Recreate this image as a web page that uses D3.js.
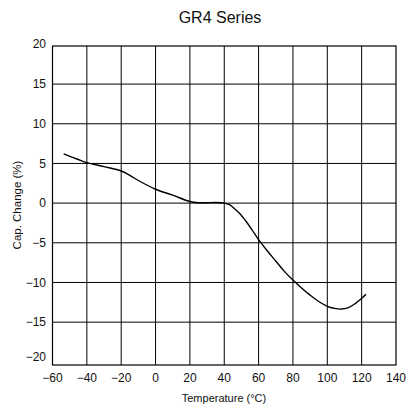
<!DOCTYPE html>
<html>
<head>
<meta charset="utf-8">
<script src="https://cdn.jsdelivr.net/npm/d3@7"></script>
<style>
  html, body { margin: 0; padding: 0; background: #fff; }
  svg { display: block; font-family: "Liberation Sans", Arial, sans-serif; }
</style>
</head>
<body>
<svg id="chart" width="407" height="408"></svg>
<script>
const title = "GR4 Series";
const xLabel = "Temperature (°C)";
const yLabel = "Cap. Change (%)";
const temps = [-53.5, -45, -40, -30, -20, -15, -10, 0, 10, 20, 25, 30, 35, 40, 43, 46, 49, 52, 56, 60, 65, 70, 75, 80, 85, 90, 95, 100, 105, 108, 112, 116, 120, 122.5];
const capChange = [6.2, 5.5, 5.1, 4.6, 4.05, 3.5, 2.85, 1.75, 1.0, 0.2, 0.05, 0.05, 0.08, 0.0, -0.2, -0.7, -1.3, -2.1, -3.3, -4.6, -6.0, -7.3, -8.6, -9.7, -10.7, -11.6, -12.4, -13.0, -13.3, -13.35, -13.2, -12.7, -12.0, -11.5];
const xTicks = [-60, -40, -20, 0, 20, 40, 60, 80, 100, 120, 140];
const yTicks = [-20, -15, -10, -5, 0, 5, 10, 15, 20];

const svg = d3.select("#chart");
const L = 52.5, R = 396, T = 46, B = 365;
const x = d3.scaleLinear().domain([-60, 140]).range([L, R]);
const y = d3.scaleLinear().domain([-20.4, 19.8]).range([B, T]);
const fmt = v => v < 0 ? "\u2212" + Math.abs(v) : String(v);

// grid
svg.append("g").selectAll("line").data(xTicks.slice(1, -1)).join("line")
  .attr("x1", d => x(d)).attr("x2", d => x(d)).attr("y1", T).attr("y2", B)
  .attr("stroke", "#000").attr("stroke-width", 1);
svg.append("g").selectAll("line").data(yTicks.filter(d => d > -20 && d < 20)).join("line")
  .attr("x1", L).attr("x2", R).attr("y1", d => y(d)).attr("y2", d => y(d))
  .attr("stroke", "#000").attr("stroke-width", 1);

// frame
svg.append("rect").attr("x", L).attr("y", T).attr("width", R - L).attr("height", B - T)
  .attr("fill", "none").attr("stroke", "#000").attr("stroke-width", 1.2);

// curve
const line = d3.line().x((d, i) => x(temps[i])).y(d => y(d)).curve(d3.curveCatmullRom.alpha(0.5));
svg.append("path").datum(capChange).attr("d", line)
  .attr("fill", "none").attr("stroke", "#000").attr("stroke-width", 1.4);

// y tick labels
svg.append("g").selectAll("text").data(yTicks).join("text")
  .attr("x", 46).attr("y", d => d === -20 ? y(d) - 5 : (d === 20 ? y(d) - 1 : y(d)))
  .attr("dy", "0.35em").attr("text-anchor", "end")
  .attr("font-size", 12).attr("fill", "#111").text(fmt);

// x tick labels
svg.append("g").selectAll("text").data(xTicks).join("text")
  .attr("x", d => x(d)).attr("y", 382).attr("text-anchor", "middle")
  .attr("font-size", 12).attr("fill", "#111").text(fmt);

// titles
svg.append("text").attr("x", 220).attr("y", 23).attr("text-anchor", "middle")
  .attr("font-size", 16).attr("fill", "#111").text(title);
svg.append("text").attr("x", 224).attr("y", 402).attr("text-anchor", "middle")
  .attr("font-size", 11).attr("fill", "#111").text(xLabel);
svg.append("text").attr("transform", "translate(21,205) rotate(-90)").attr("text-anchor", "middle")
  .attr("font-size", 11.5).attr("fill", "#111").text(yLabel);
</script>
</body>
</html>
